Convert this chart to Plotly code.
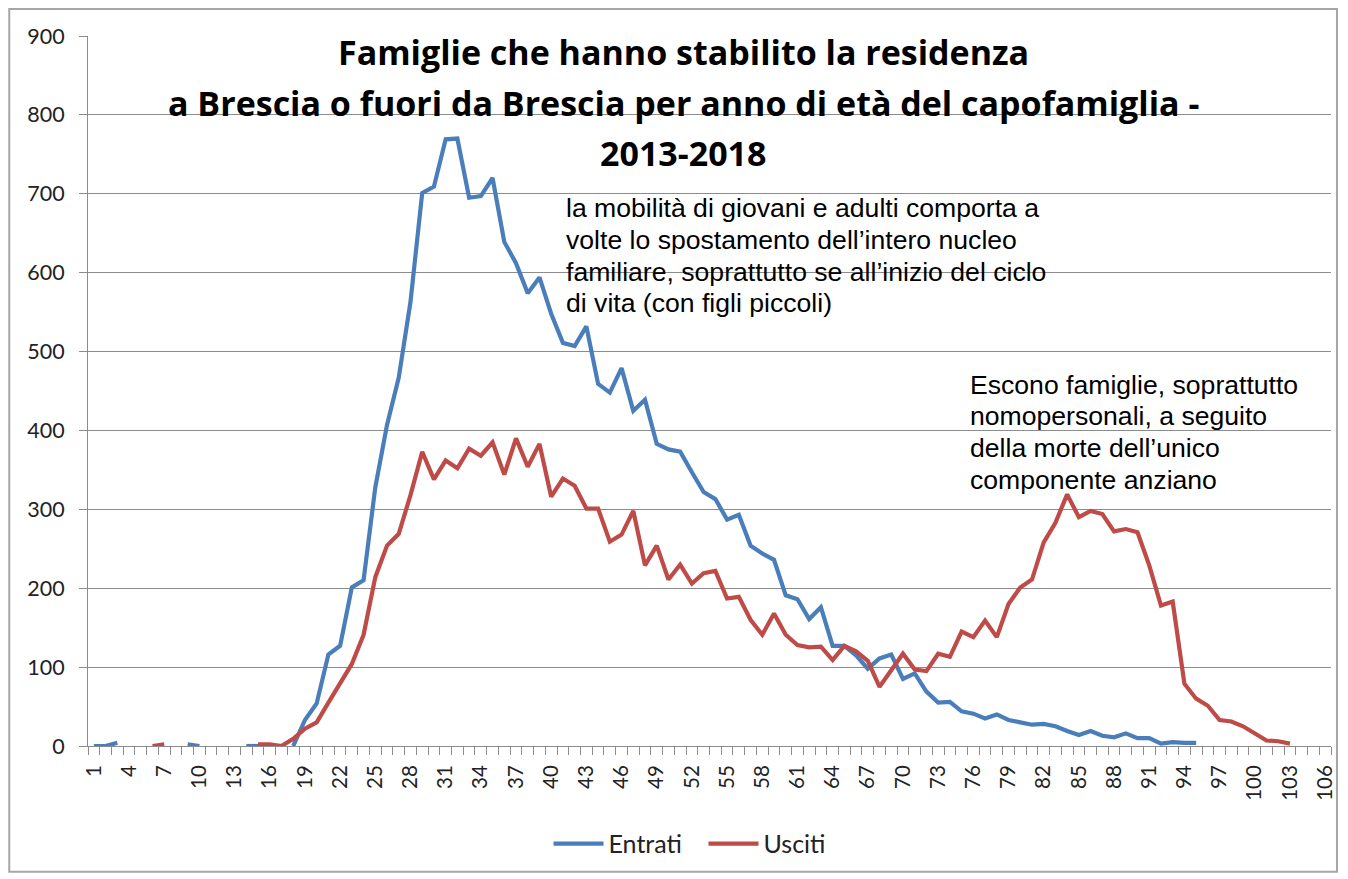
import plotly.graph_objects as go

# ---- data ----
ages_entrati = list(range(1, 96))
entrati = [0, 0, 4, None, None, None, None, None, 2, 0,
           None, None, None, 0, 0, None, None, 0, 33, 54,
           116, 127, 201, 210, 328, 407, 467, 563, 701, 709,
           769, 770, 695, 697, 720, 639, 612, 574, 594, 548,
           511, 507, 532, 459, 448, 479, 425, 439, 383, 376,
           373, 347, 322, 313, 287, 293, 254, 244, 236, 191,
           186, 161, 176, 127, 127, 115, 98, 111, 116, 85,
           92, 69, 55, 56, 44, 41, 35, 40, 33, 30,
           27, 28, 25, 19, 14, 19, 13, 11, 16, 10,
           10, 3, 5, 4, 4]

ages_usciti = list(range(1, 104))
usciti = [None, None, None, None, None, 0, 2, None, None, None,
          None, None, None, None, 2, 2, 0, 9, 22, 30,
          55, 79, 104, 141, 214, 254, 269, 318, 373, 338,
          362, 352, 377, 368, 385, 344, 390, 354, 383, 316,
          339, 330, 301, 301, 259, 268, 298, 229, 254, 211,
          230, 206, 219, 222, 187, 189, 160, 141, 168, 141,
          128, 125, 126, 109, 127, 120, 108, 75, 96, 117,
          97, 95, 117, 113, 145, 138, 159, 138, 180, 201,
          211, 258, 283, 319, 290, 298, 294, 272, 275, 271,
          229, 178, 183, 79, 60, 51, 33, 31, 25, 16,
          7, 6, 3]

title_lines = ["Famiglie che hanno stabilito la residenza",
               "a Brescia o fuori da Brescia per anno di età del capofamiglia -",
               "2013-2018"]
note1_lines = ["la mobilità di giovani e adulti comporta a",
               "volte lo spostamento dell\u2019intero nucleo",
               "familiare, soprattutto se all\u2019inizio del ciclo",
               "di vita (con figli piccoli)"]
note2_lines = ["Escono famiglie, soprattutto",
               "nomopersonali, a seguito",
               "della morte dell\u2019unico",
               "componente anziano"]

# ---- layout geometry (page pixels; the page body adds an 8px offset) ----
OFF = 8
W, H = 1348 - OFF, 879 - OFF
L, R, T, B = 88, 1335, 36, 747   # plot area in page pixels


def px(x):
    return (x - L) / (R - L)


def py(y):
    return (B - y) / (B - T)


BLUE = "#4A7EBB"
RED = "#BE4B48"
GRID = "#8C8C8C"

fig = go.Figure()
fig.add_trace(go.Scatter(x=ages_entrati, y=entrati, mode="lines", name="Entrati",
                         line=dict(color=BLUE, width=4.2), connectgaps=False))
fig.add_trace(go.Scatter(x=ages_usciti, y=usciti, mode="lines", name="Usciti",
                         line=dict(color=RED, width=4.2), connectgaps=False))

annotations = []
for text, yy in zip(title_lines, [52, 103, 153]):
    annotations.append(dict(text="<b>" + text + "</b>", xref="paper", yref="paper",
                            x=px(685), y=py(yy), xanchor="center", yanchor="middle",
                            showarrow=False,
                            font=dict(family="Open Sans", size=34, color="#000000")))
for text, yy in zip(note1_lines, [208, 240, 272, 303]):
    annotations.append(dict(text=text, xref="paper", yref="paper",
                            x=px(566), y=py(yy), xanchor="left", yanchor="middle",
                            showarrow=False,
                            font=dict(family="Liberation Sans", size=26.6, color="#000000")))
for text, yy in zip(note2_lines, [385, 417, 449, 481]):
    annotations.append(dict(text=text, xref="paper", yref="paper",
                            x=px(971), y=py(yy), xanchor="left", yanchor="middle",
                            showarrow=False,
                            font=dict(family="Liberation Sans", size=26.6, color="#000000")))

fig.update_layout(
    width=W, height=H,
    margin=dict(l=L - OFF, r=W - (R - OFF), t=T - OFF, b=H - (B - OFF), pad=0),
    paper_bgcolor="white", plot_bgcolor="white",
    showlegend=True,
    legend=dict(orientation="h", x=px(550), y=py(845), xanchor="left", yanchor="middle",
                font=dict(family="Lato", size=25, color="#222222"),
                itemwidth=50, entrywidth=90, entrywidthmode="pixels",
                tracegroupgap=0, bgcolor="rgba(0,0,0,0)"),
    annotations=annotations,
    shapes=[dict(type="rect", xref="paper", yref="paper",
                 x0=px(9), x1=px(1341), y0=py(873), y1=py(9),
                 line=dict(color="#A6A6A6", width=2), fillcolor="rgba(0,0,0,0)",
                 layer="below")],
    xaxis=dict(range=[0.5, 106.5], tickmode="linear", tick0=1, dtick=3,
               ticks="", tickangle=-90, showgrid=False, zeroline=False,
               showline=True, linecolor=GRID, linewidth=1,
               tickfont=dict(family="Lato", size=20.5, color="#222222"),
               minor=dict(ticks="outside", tick0=0.5, dtick=1, ticklen=8,
                          tickcolor=GRID, tickwidth=1, showgrid=False),
               ticklabelstandoff=10),
    yaxis=dict(range=[0, 900], tickmode="linear", tick0=0, dtick=100,
               ticks="outside", ticklen=8, tickcolor=GRID, tickwidth=1,
               showgrid=True, gridcolor=GRID, gridwidth=1, zeroline=False,
               showline=True, linecolor=GRID, linewidth=1,
               tickfont=dict(family="Lato", size=21.5, color="#222222"),
               ticklabelstandoff=10),
)

fig.write_html("out.html")
